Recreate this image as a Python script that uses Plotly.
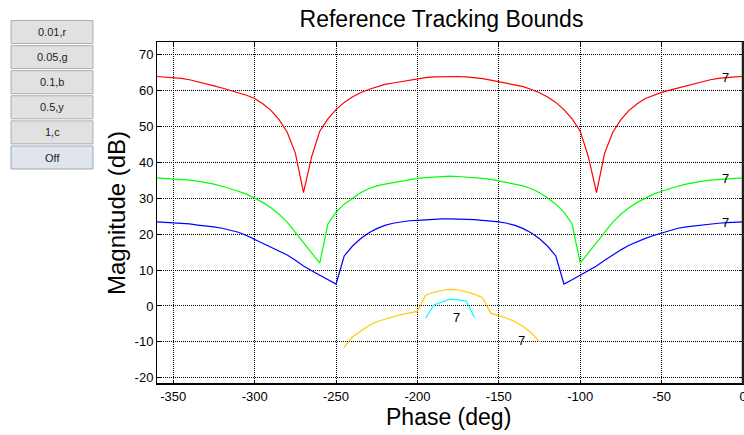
import plotly.graph_objects as go

# ---------------- data ----------------
phase = [-360, -355, -350, -345, -340, -335, -330, -325, -320, -315, -310, -305,
         -300, -295, -290, -285, -280, -275, -270, -265, -260, -255, -250, -245,
         -240, -235, -230, -225, -220, -215, -210, -205, -200, -195, -190, -185,
         -180, -175, -170, -165, -160, -155, -150, -145, -140, -135, -130, -125,
         -120, -115, -110, -105, -100, -95, -90, -85, -80, -75, -70, -65,
         -60, -55, -50, -45, -40, -35, -30, -25, -20, -15, -10, -5, 0]

red = [63.8, 63.7, 63.6, 63.3, 62.9, 62.4, 61.8, 61.2, 60.6, 60.0, 59.4, 58.6,
       57.7, 56.2, 54.4, 51.8, 48.3, 42.5, 31.5, 41.5, 48.6, 52.0, 54.6, 56.6,
       58.1, 59.3, 60.2, 61.0, 61.6, 62.0, 62.4, 62.8, 63.2, 63.5, 63.7, 63.8,
       63.9, 63.8, 63.7, 63.5, 63.2, 62.8, 62.4, 62.0, 61.6, 61.0, 60.2, 59.3,
       58.1, 56.6, 54.6, 52.0, 48.6, 41.5, 31.5, 42.5, 48.3, 51.8, 54.4, 56.2,
       57.7, 58.6, 59.4, 60.0, 60.6, 61.2, 61.8, 62.4, 62.9, 63.3, 63.6, 63.7, 63.8]

green = [35.6, 35.5, 35.4, 35.2, 35.0, 34.7, 34.4, 33.9, 33.3, 32.7, 31.9, 31.1,
         30.0, 28.8, 27.3, 25.5, 23.3, 20.4, 17.6, 14.7, 11.9, 22.8, 26.1, 28.3,
         30.0, 31.5, 32.6, 33.4, 33.9, 34.3, 34.8, 35.2, 35.5, 35.7, 35.9, 36.0,
         36.1, 36.0, 35.9, 35.7, 35.5, 35.2, 34.8, 34.3, 33.9, 33.4, 32.6, 31.5,
         30.0, 28.3, 26.1, 22.8, 11.9, 14.7, 17.6, 20.4, 23.3, 25.5, 27.3, 28.8,
         30.0, 31.1, 31.9, 32.7, 33.3, 33.9, 34.4, 34.7, 35.0, 35.2, 35.4, 35.5, 35.6]

blue = [23.4, 23.3, 23.2, 23.0, 22.8, 22.5, 22.3, 22.0, 21.6, 21.1, 20.5, 19.6,
        18.5, 17.4, 16.3, 15.2, 14.2, 12.7, 11.1, 9.8, 8.6, 7.3, 6.1, 13.9,
        16.6, 18.7, 20.3, 21.5, 22.4, 23.0, 23.4, 23.7, 23.8, 24.0, 24.2, 24.2,
        24.2, 24.2, 24.2, 24.0, 23.8, 23.7, 23.4, 23.0, 22.4, 21.5, 20.3, 18.7,
        16.6, 13.9, 6.1, 7.3, 8.6, 9.8, 11.1, 12.7, 14.2, 15.6, 16.9, 17.9,
        18.8, 19.6, 20.3, 21.0, 21.6, 22.0, 22.3, 22.6, 22.8, 23.0, 23.2, 23.3, 23.4]

yellow_phase = [-245, -240, -235, -230, -225, -220, -215, -210, -205, -200, -195,
                -190, -185, -180, -175, -170, -165, -160, -155, -150, -145, -140,
                -135, -130, -125]
yellow = [-11.5, -8.6, -7.0, -5.5, -4.4, -3.6, -3.0, -2.4, -2.0, -1.5, 3.0,
          3.8, 4.3, 4.6, 4.5, 4.0, 3.3, 2.3, -2.0, -2.7, -3.4, -4.4,
          -5.7, -7.5, -10.0]

cyan_phase = [-195, -190, -185, -180, -175, -170, -165]
cyan = [-3.4, 0.3, 1.1, 1.9, 1.7, 1.4, -3.2]
cyan_edge_phase = [-1, 0.6]
cyan_edge = [0, 0]

label_text = ["7", "7", "7", "7", "7"]
label_phase = [-11, -11, -11, -136, -176]
label_db = [63.5, 35.4, 23.1, -9.7, -3.1]

button_labels = ["0.01,r", "0.05,g", "0.1,b", "0.5,y", "1,c", "Off"]

x_ticks = [-350, -300, -250, -200, -150, -100, -50, 0]
y_ticks = [-20, -10, 0, 10, 20, 30, 40, 50, 60, 70]

# ---------------- figure ----------------
W, H = 744, 435
ML, MR, MT, MB = 157, 1, 42, 51
PW, PH = W - ML - MR, H - MT - MB

def px(x):
    return (x - ML) / PW

def py(y):
    return (H - MB - y) / PH

FONT = "Liberation Sans, Arial, sans-serif"

fig = go.Figure()
series = [
    (phase, red, "#ff0000"),
    (phase, green, "#00ff00"),
    (phase, blue, "#0000ff"),
    (yellow_phase, yellow, "#ffcc00"),
    (cyan_phase, cyan, "#00ffff"),
    (cyan_edge_phase, cyan_edge, "#00ffff"),
]
for xs, ys, col in series:
    fig.add_trace(go.Scatter(x=xs, y=ys, mode="lines",
                             line=dict(color=col, width=1.2),
                             showlegend=False, hoverinfo="skip", cliponaxis=False))

annotations = []
for t, xv, yv in zip(label_text, label_phase, label_db):
    annotations.append(dict(x=xv, y=yv, xref="x", yref="y", text=t, showarrow=False,
                            font=dict(family=FONT, size=13, color="#000000"),
                            xanchor="center", yanchor="middle"))

annotations.append(dict(x=px(116), y=0.5, xref="paper", yref="paper",
                        text="Magnitude (dB)", showarrow=False, textangle=-90,
                        font=dict(family=FONT, size=24, color="#000000"),
                        xanchor="center", yanchor="middle"))
annotations.append(dict(x=px(448), y=py(416.5), xref="paper", yref="paper",
                        text="Phase (deg)", showarrow=False,
                        font=dict(family=FONT, size=23, color="#000000"),
                        xanchor="center", yanchor="middle"))

shapes = []
# buttons
bx0, bx1 = 11, 93
top0, pitch, bh = 20.5, 25.1, 23
for i, lab in enumerate(button_labels):
    y0 = top0 + i * pitch
    y1 = y0 + bh
    off = (lab == "Off")
    shapes.append(dict(type="rect", xref="paper", yref="paper",
                       x0=px(bx0), x1=px(bx1), y0=py(y1), y1=py(y0),
                       fillcolor="#dfe5eb" if off else "#e1e1e1",
                       line=dict(color="#9aa9b8" if off else "#adadad", width=1),
                       layer="above"))
    annotations.append(dict(x=px((bx0 + bx1) / 2), y=py((y0 + y1) / 2),
                            xref="paper", yref="paper", text=lab, showarrow=False,
                            font=dict(family=FONT, size=11, color="#1e1e1e"),
                            xanchor="center", yanchor="middle"))

# thicker bottom and right frame lines
shapes.append(dict(type="line", xref="paper", yref="paper", x0=0, x1=1, y0=0, y1=0,
                   line=dict(color="#000000", width=2), layer="above"))
shapes.append(dict(type="line", xref="paper", yref="paper", x0=1, x1=1, y0=0, y1=1,
                   line=dict(color="#202020", width=2.5), layer="above"))

axis_common = dict(showline=True, linecolor="#000000", linewidth=1, mirror="ticks",
                   ticks="inside", ticklen=4, tickcolor="#000000", tickwidth=1,
                   showgrid=True, gridcolor="#000000", gridwidth=1, griddash="1px,1px",
                   zeroline=False, ticklabeloverflow="allow", automargin=False,
                   tickfont=dict(family=FONT, size=13, color="#000000"))

fig.update_layout(
    width=W, height=H,
    margin=dict(l=ML, r=MR, t=MT, b=MB, pad=0, autoexpand=False),
    paper_bgcolor="#ffffff", plot_bgcolor="#ffffff",
    title=dict(text="Reference Tracking Bounds", x=px(441.5), xref="paper",
               xanchor="center", y=1 - 19 / H, yref="container", yanchor="middle",
               font=dict(family=FONT, size=23, color="#000000")),
    xaxis=dict(range=[-360, 0], tickvals=x_ticks, ticktext=[str(v) for v in x_ticks],
               **axis_common),
    yaxis=dict(range=[-21.7, 73.4], tickvals=y_ticks, ticktext=[str(v) for v in y_ticks],
               **axis_common),
    annotations=annotations,
    shapes=shapes,
)

fig.write_html("out.html", config={"displayModeBar": False},
               post_script="document.body.style.margin='0';document.body.style.overflow='hidden';")
